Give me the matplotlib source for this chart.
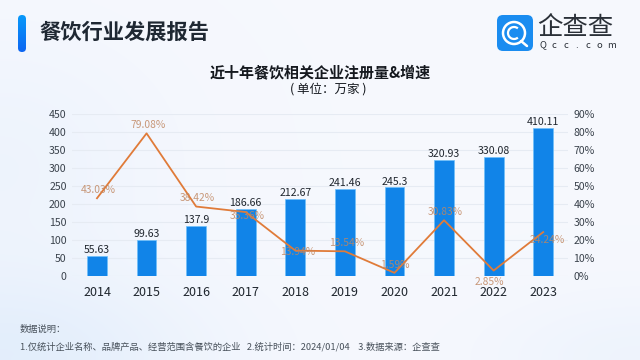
import matplotlib
matplotlib.use('Agg')
import matplotlib.pyplot as plt
import numpy as np
from matplotlib.patches import FancyBboxPatch, Circle, Arc

plt.rcParams['font.family'] = ['Noto Sans CJK SC', 'DejaVu Sans']

years = ['2014', '2015', '2016', '2017', '2018', '2019', '2020', '2021', '2022', '2023']
counts = [55.63, 99.63, 137.9, 186.66, 212.67, 241.46, 245.3, 320.93, 330.08, 410.11]
count_labels = ['55.63', '99.63', '137.9', '186.66', '212.67', '241.46', '245.3', '320.93', '330.08', '410.11']
growth = [43.03, 79.08, 38.42, 35.36, 13.94, 13.54, 1.59, 30.83, 2.85, 24.24]
growth_labels = ['43.03%', '79.08%', '38.42%', '35.36%', '13.94%', '13.54%', '1.59%', '30.83%', '2.85%', '24.24%']
left_ticks = [0, 50, 100, 150, 200, 250, 300, 350, 400, 450]
right_ticks = [0, 10, 20, 30, 40, 50, 60, 70, 80, 90]
logo_letters = ['Q', 'c', 'c', '.', 'c', 'o', 'm']

# label offsets in points, the labels do not all sit above the line
label_dx = [1, 1, 1, 1, 2, 1, 0, 1, -3, 3]
label_dy = [6, 6, 6, -3, -1, 6, 6, 6, -8, -6]

W, H = 640, 360
fig = plt.figure(figsize=(6.4, 3.6), dpi=100)

# background, full figure in pixel coordinates
bg = fig.add_axes([0, 0, 1, 1], zorder=0)
bg.axis('off')
xx, yy = np.meshgrid(np.linspace(0, 1, 160), np.linspace(0, 1, 90))
shade = np.exp(-((xx - 0.0) ** 2 / 0.10 + (yy - 1.0) ** 2 / 0.06)) * 0.8 + np.exp(-((xx - 1.0) ** 2 / 0.05 + (yy - 1.0) ** 2 / 0.03)) * 0.35
shade = shade + np.exp(-((xx - 0.0) ** 2 / 0.06 + (yy - 0.45) ** 2 / 0.12)) * 0.35
shade = np.clip(shade, 0, 1)[..., None]
base = np.array([0.965, 0.973, 0.995])
tint = np.array([0.875, 0.925, 0.985])
bg.imshow(base * (1 - shade) + tint * shade, extent=[0, W, H, 0], aspect='auto', interpolation='bilinear')

# header
grad = np.linspace(0, 1, 64)[:, None, None]
bar_img = bg.imshow(np.array([0.03, 0.60, 0.98]) * (1 - grad) + np.array([0.05, 0.40, 0.95]) * grad,
                    extent=[18, 26, 52, 15], aspect='auto')
bg.set_xlim(0, W)
bg.set_ylim(H, 0)
clip = FancyBboxPatch((18, 15), 8, 37, boxstyle='round,pad=0,rounding_size=4', transform=bg.transData, fc='none', ec='none')
bg.add_patch(clip)
bar_img.set_clip_path(clip)
bg.text(39.5, 32, '餐饮行业发展报告', fontsize=15.3, fontweight='bold', color='#1f2833', va='center', ha='left')

# logo
bg.add_patch(FancyBboxPatch((497, 15), 36, 36, boxstyle='round,pad=0,rounding_size=6', fc='#1a8cf0', ec='none'))
bg.add_patch(Circle((514, 33), 11, fc='none', ec='white', lw=1.8))
bg.add_patch(Arc((514, 33), 12, 12, angle=0, theta1=50, theta2=310, ec='white', lw=1.6))
bg.plot([521, 527], [41, 46], color='white', lw=1.8, solid_capstyle='round')
bg.text(537.5, 27.5, '企查查', fontsize=18.3, color='#2a3038', va='center', ha='left')
for lx, ch in zip(np.linspace(543, 611, len(logo_letters)), logo_letters):
    bg.text(lx, 45, ch, fontsize=6.8, color='#2a3038', va='center', ha='center', fontweight='medium')

# titles
bg.text(320, 72, '近十年餐饮相关企业注册量&增速', fontsize=10.8, fontweight='bold', color='#15191f', ha='center', va='center')
bg.text(328, 89, '( 单位：万家 )', fontsize=9, fontweight='medium', color='#15191f', ha='center', va='center')

# footnote
bg.text(20, 329.5, '数据说明：', fontsize=6.7, color='#47505a', ha='left', va='center')
bg.text(20, 347, '1.仅统计企业名称、品牌产品、经营范围含餐饮的企业   2.统计时间：2024/01/04    3.数据来源：企查查', fontsize=6.7, color='#47505a', ha='left', va='center')

# chart
ax = fig.add_axes([72.2 / W, 1 - 275.7 / H, 495.8 / W, 162 / H], zorder=1)
ax.patch.set_alpha(0)
x = np.arange(len(years))
ax.bar(x, counts, width=0.4, color='#1184e8', edgecolor='#6fc0fa', linewidth=0.5, zorder=2)
ax.set_xlim(-0.5, 9.5)
ax.set_ylim(0, 450)
ax.set_yticks(left_ticks)
ax.set_xticks(x)
ax.set_xticklabels(years, fontsize=9, color='#1f262e')
ax.tick_params(axis='y', labelsize=7.6, labelcolor='#3a424c', length=0, pad=4)
ax.tick_params(axis='x', length=0, pad=7.5)
ax.grid(axis='y', color='#e6ebf3', linewidth=0.8, zorder=0)
ax.set_axisbelow(True)
for s in ax.spines.values():
    s.set_visible(False)
for i, v in enumerate(counts):
    ax.annotate(count_labels[i], (x[i], v), xytext=(0, 0.5), textcoords='offset points',
                ha='center', va='bottom', fontsize=7.6, fontweight='medium', color='#20262e', zorder=5)

ax2 = ax.twinx()
ax2.patch.set_alpha(0)
ax2.plot(x, growth, color='#e07b39', linewidth=1.3, zorder=4)
ax2.set_ylim(0, 90)
ax2.set_yticks(right_ticks)
ax2.set_yticklabels([str(t) + '%' for t in right_ticks])
ax2.tick_params(axis='y', labelsize=7.6, labelcolor='#3a424c', length=0, pad=4)
for s in ax2.spines.values():
    s.set_visible(False)
for i, v in enumerate(growth):
    ax2.annotate(growth_labels[i], (x[i], v), xytext=(label_dx[i], label_dy[i]), textcoords='offset points',
                 ha='center', va='center', fontsize=7.4, fontweight='medium', color='#c08660', alpha=0.85, zorder=6)

fig.savefig('out.png', dpi=100)
